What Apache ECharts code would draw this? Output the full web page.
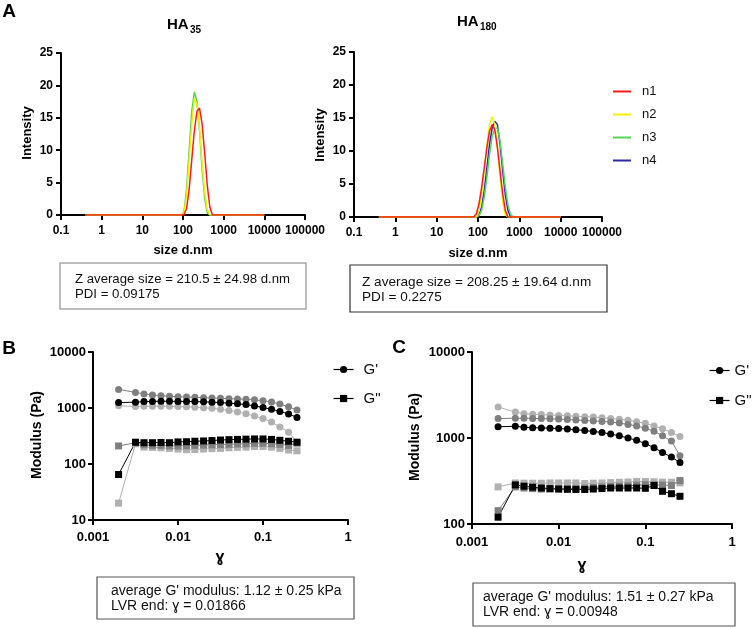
<!DOCTYPE html>
<html>
<head>
<meta charset="utf-8">
<script src="https://cdn.jsdelivr.net/npm/echarts@6/dist/echarts.min.js"></script>
<style>html,body{margin:0;padding:0;background:#fff}#c{width:756px;height:628px}</style>
</head>
<body>
<div id="c"></div>
<script>
// ---------- Panel A: DLS size distributions ----------
const sizeBins = [0.4, 78.82, 91.28, 105.7, 122.4, 141.8, 164.2, 190.1, 220.2, 255.0, 295.3, 342.0, 396.1, 458.7, 531.2, 615.1, 712.4, 825.0, 10000];
const ha35_n1 = [0, 0, 0, 0, 1.0, 4.0, 8.5, 13.0, 16.0, 16.5, 14.0, 9.5, 4.5, 1.2, 0, 0, 0, 0, 0];
const ha35_n2 = [0, 0, 0, 0.3, 3.0, 8.5, 14.0, 18.0, 17.0, 13.5, 8.0, 3.5, 0.8, 0, 0, 0, 0, 0, 0];
const ha35_n3 = [0, 0, 0, 0.5, 4.0, 10.0, 16.0, 19.0, 17.5, 13.0, 7.0, 2.5, 0.3, 0, 0, 0, 0, 0, 0];
const ha180_n1 = [0, 0, 0.5, 2.0, 4.5, 7.5, 10.5, 13.0, 14.0, 13.2, 10.5, 7.0, 3.5, 1.0, 0, 0, 0, 0, 0];
const ha180_n2 = [0, 0, 0, 1.0, 3.5, 7.0, 11.0, 14.0, 15.2, 14.0, 10.5, 6.0, 2.3, 0.3, 0, 0, 0, 0, 0];
const ha180_n3 = [0, 0, 0, 0.2, 1.0, 3.0, 6.0, 9.5, 12.2, 13.4, 13.5, 11.5, 8.0, 4.5, 1.8, 0.4, 0, 0, 0];
const ha180_n4 = [0, 0, 0, 0.3, 1.5, 4.0, 7.5, 11.0, 13.5, 14.5, 14.0, 11.0, 7.0, 3.3, 1.0, 0, 0, 0, 0];
const sizeTickLabels = ['0.1', '1', '10', '100', '1000', '10000', '100000'];
const intensityTicks = [0, 5, 10, 15, 20, 25];

// ---------- Panels B & C: amplitude sweeps ----------
const strain = [0.002, 0.00316, 0.00398, 0.00501, 0.00631, 0.00794, 0.01, 0.0126, 0.0158, 0.02, 0.0251, 0.0316, 0.0398, 0.0501, 0.0631, 0.0794, 0.1, 0.126, 0.158, 0.2, 0.251];
const strainTickLabels = ['0.001', '0.01', '0.1', '1'];

const B_Gp_a = [2150, 1900, 1780, 1700, 1660, 1620, 1590, 1570, 1550, 1530, 1510, 1490, 1470, 1450, 1430, 1400, 1350, 1280, 1180, 1050, 920];
const B_Gp_b = [1250, 1270, 1300, 1310, 1320, 1320, 1310, 1310, 1300, 1290, 1270, 1250, 1220, 1190, 1150, 1090, 1020, 950, 870, 780, 680];
const B_Gp_c = [1100, 1060, 1070, 1080, 1080, 1070, 1060, 1050, 1030, 1010, 990, 950, 900, 850, 790, 720, 650, 560, 460, 370, 245];
const B_Gpp_a = [65, 245, 240, 240, 242, 240, 248, 250, 255, 258, 262, 268, 272, 275, 278, 280, 280, 275, 265, 255, 245];
const B_Gpp_b = [210, 240, 220, 215, 215, 210, 210, 212, 215, 218, 220, 222, 225, 228, 230, 235, 235, 230, 225, 215, 235];
const B_Gpp_c = [20, 230, 200, 198, 195, 190, 185, 180, 182, 185, 188, 190, 195, 198, 200, 205, 205, 200, 190, 178, 172];

const C_Gp_a = [2300, 2000, 1920, 1890, 1870, 1850, 1830, 1810, 1790, 1770, 1750, 1720, 1690, 1650, 1610, 1550, 1480, 1380, 1280, 1160, 1040];
const C_Gp_b = [1680, 1700, 1700, 1690, 1680, 1670, 1660, 1640, 1620, 1600, 1580, 1560, 1530, 1490, 1440, 1380, 1300, 1200, 1060, 920, 620];
const C_Gp_c = [1350, 1370, 1330, 1320, 1310, 1300, 1290, 1270, 1250, 1220, 1190, 1160, 1110, 1060, 1000, 940, 860, 770, 680, 600, 520];
const C_Gpp_a = [120, 285, 275, 268, 262, 258, 255, 253, 252, 252, 255, 258, 262, 262, 262, 262, 260, 280, 240, 225, 210];
const C_Gpp_b = [143, 270, 262, 258, 255, 255, 256, 258, 260, 262, 266, 270, 273, 275, 278, 283, 286, 286, 283, 280, 320];
const C_Gpp_c = [270, 300, 298, 298, 298, 300, 300, 300, 300, 296, 298, 300, 303, 306, 308, 312, 312, 310, 307, 305, 300];

const FONT = 'Arial, "Liberation Sans", Helvetica, sans-serif';
const nColors = { n1: '#ff1a1a', n2: '#f2f200', n3: '#55d455', n4: '#2a2aa8' };
const BLACK = '#000000', MID = '#7f7f7f', LIGHT = '#b0b0b0';

function pairs(xs, ys) { return xs.map((x, i) => [x, ys[i]]); }

const axisLine = { lineStyle: { color: '#000', width: 2 } };
const axisTick = { length: 5, lineStyle: { color: '#000', width: 2 } };

function sizeXAxis(gi) {
  return {
    type: 'log', logBase: 10, gridIndex: gi, min: 0.1, max: 100000,
    axisLine, axisTick, splitLine: { show: false }, minorTick: { show: false },
    axisLabel: { color: '#000', fontFamily: FONT, fontWeight: 'bold', fontSize: 12, margin: 10,
      formatter: (v, i) => sizeTickLabels[i] }
  };
}
function intensityYAxis(gi) {
  return {
    type: 'value', gridIndex: gi, min: intensityTicks[0], max: intensityTicks[intensityTicks.length - 1], interval: 5,
    axisLine: { show: true, lineStyle: { color: '#000', width: 2 } }, axisTick: { show: true, length: 5, lineStyle: { color: '#000', width: 2 } },
    splitLine: { show: false },
    axisLabel: { color: '#000', fontFamily: FONT, fontWeight: 'bold', fontSize: 12, margin: 8 }
  };
}
function strainXAxis(gi, margin) {
  return {
    type: 'log', logBase: 10, gridIndex: gi, min: 0.001, max: 1,
    axisLine, axisTick, splitLine: { show: false },
    axisLabel: { color: '#000', fontFamily: FONT, fontWeight: 'bold', fontSize: 13, margin: margin,
      formatter: (v, i) => strainTickLabels[i] }
  };
}
function modulusYAxis(gi, min) {
  return {
    type: 'log', logBase: 10, gridIndex: gi, min: min, max: 10000,
    axisLine: { show: true, lineStyle: { color: '#000', width: 2 } }, axisTick: { show: true, length: 5, lineStyle: { color: '#000', width: 2 } },
    splitLine: { show: false },
    axisLabel: { color: '#000', fontFamily: FONT, fontWeight: 'bold', fontSize: 13, margin: 7,
      formatter: v => String(Math.round(v)) }
  };
}

function dlsSeries(name, data, axisIdx) {
  return {
    name, type: 'line', xAxisIndex: axisIdx, yAxisIndex: axisIdx, symbol: 'none',
    data: pairs(sizeBins, data), lineStyle: { color: nColors[name], width: 1.5 },
    itemStyle: { color: nColors[name] }, animation: false
  };
}
function rheoSeries(name, data, axisIdx, color, symbol) {
  return {
    name, type: 'line', xAxisIndex: axisIdx, yAxisIndex: axisIdx, symbol, symbolSize: 7,
    data: pairs(strain, data), lineStyle: { color, width: 1 }, itemStyle: { color }, animation: false
  };
}

function label(text, x, y, font, extra) {
  return Object.assign({ type: 'text', x, y, style: { text, font: font + ' ' + FONT, fill: '#000', align: 'center', verticalAlign: 'middle' } }, extra || {});
}
function boxLine(text, x, y, size) {
  return { type: 'text', x, y, style: { text, font: size + 'px ' + FONT, fill: '#111', align: 'left', verticalAlign: 'middle' } };
}
function rheoLegend(left, top, gap, pad) {
  return {
    data: [
      { name: "G'", itemStyle: { color: '#000' }, lineStyle: { color: '#000', width: 1.2 } },
      { name: 'G"', itemStyle: { color: '#000' }, lineStyle: { color: '#000', width: 1.2 } }
    ],
    orient: 'vertical', left, top, itemWidth: 20, itemHeight: 9, itemGap: gap,
    textStyle: { fontFamily: FONT, fontSize: 15, color: '#111', padding: [0, 0, 0, pad] }
  };
}

const option = {
  backgroundColor: '#fff',
  animation: false,
  grid: [
    { left: 61, top: 53, width: 244, height: 162 },
    { left: 354, top: 52, width: 248, height: 165 },
    { left: 93, top: 352, width: 255, height: 168 },
    { left: 472, top: 352, width: 260, height: 172 }
  ],
  xAxis: [sizeXAxis(0), sizeXAxis(1), strainXAxis(2, 11), strainXAxis(3, 12)],
  yAxis: [intensityYAxis(0), intensityYAxis(1), modulusYAxis(2, 10), modulusYAxis(3, 100)],
  legend: [
    {
      data: ['n1', 'n2', 'n3', 'n4'], orient: 'vertical', left: 608, top: 80,
      itemWidth: 18, itemHeight: 12, itemGap: 10, icon: 'path://M0,5 L18,5 L18,7 L0,7 Z',
      textStyle: { fontFamily: FONT, fontSize: 13, color: '#111', padding: [0, 0, 0, 6] }
    },
    rheoLegend(328, 357, 14, 5),
    rheoLegend(704, 358, 15, 0)
  ],
  series: [
    dlsSeries('n3', ha35_n3, 0), dlsSeries('n2', ha35_n2, 0), dlsSeries('n1', ha35_n1, 0),
    dlsSeries('n4', ha180_n4, 1), dlsSeries('n3', ha180_n3, 1), dlsSeries('n2', ha180_n2, 1), dlsSeries('n1', ha180_n1, 1),
    rheoSeries("G'", B_Gp_a, 2, MID, 'circle'), rheoSeries("G'", B_Gp_c, 2, LIGHT, 'circle'), rheoSeries("G'", B_Gp_b, 2, BLACK, 'circle'),
    rheoSeries('G"', B_Gpp_c, 2, LIGHT, 'rect'), rheoSeries('G"', B_Gpp_b, 2, MID, 'rect'), rheoSeries('G"', B_Gpp_a, 2, BLACK, 'rect'),
    rheoSeries("G'", C_Gp_a, 3, LIGHT, 'circle'), rheoSeries("G'", C_Gp_b, 3, MID, 'circle'), rheoSeries("G'", C_Gp_c, 3, BLACK, 'circle'),
    rheoSeries('G"', C_Gpp_c, 3, LIGHT, 'rect'), rheoSeries('G"', C_Gpp_b, 3, MID, 'rect'), rheoSeries('G"', C_Gpp_a, 3, BLACK, 'rect')
  ],
  graphic: [
    label('A', 9, 12, 'bold 19px'),
    label('B', 9, 349, 'bold 19px'),
    label('C', 399, 348, 'bold 19px'),
    // panel titles
    { type: 'text', x: 167, y: 25, style: { text: 'HA', font: 'bold 15px ' + FONT, fill: '#000', align: 'left', verticalAlign: 'middle' } },
    { type: 'text', x: 190, y: 30, style: { text: '35', font: 'bold 10px ' + FONT, fill: '#000', align: 'left', verticalAlign: 'middle' } },
    { type: 'text', x: 457, y: 22, style: { text: 'HA', font: 'bold 15px ' + FONT, fill: '#000', align: 'left', verticalAlign: 'middle' } },
    { type: 'text', x: 480, y: 27, style: { text: '180', font: 'bold 10px ' + FONT, fill: '#000', align: 'left', verticalAlign: 'middle' } },
    // axis titles
    label('Intensity', 27, 133, 'bold 13px', { rotation: Math.PI / 2 }),
    label('size d.nm', 183, 250, 'bold 13px'),
    label('Intensity', 320, 135, 'bold 13px', { rotation: Math.PI / 2 }),
    label('size d.nm', 478, 253, 'bold 13px'),
    label('Modulus (Pa)', 37, 435, 'bold 14px', { rotation: Math.PI / 2 }),
    label('ɣ', 220, 558, 'bold 16px'),
    label('Modulus (Pa)', 415, 437, 'bold 14px', { rotation: Math.PI / 2 }),
    label('ɣ', 582, 566, 'bold 16px'),
    // info boxes
    { type: 'rect', shape: { x: 60, y: 263, width: 246, height: 46 }, style: { fill: 'none', stroke: '#a8a8a8', lineWidth: 1.5 } },
    boxLine('Z average size = 210.5 ± 24.98 d.nm', 75, 279, 13.2),
    boxLine('PDI = 0.09175', 75, 294, 13.2),
    { type: 'rect', shape: { x: 350, y: 265, width: 257, height: 47 }, style: { fill: 'none', stroke: '#333', lineWidth: 1.2 } },
    boxLine('Z average size = 208.25 ± 19.64 d.nm', 362, 282, 13.6),
    boxLine('PDI = 0.2275', 362, 297, 13.6),
    { type: 'rect', shape: { x: 97, y: 577, width: 257, height: 42 }, style: { fill: 'none', stroke: '#555', lineWidth: 1.2 } },
    boxLine("average G' modulus: 1.12 ± 0.25 kPa", 111, 591, 14),
    boxLine('LVR end: ɣ = 0.01866', 111, 606, 14),
    { type: 'rect', shape: { x: 473, y: 583, width: 262, height: 43 }, style: { fill: 'none', stroke: '#555', lineWidth: 1.2 } },
    boxLine("average G' modulus: 1.51 ± 0.27 kPa", 483, 597, 14),
    boxLine('LVR end: ɣ = 0.00948', 483, 612, 14)
  ]
};

const chart = echarts.init(document.getElementById('c'), null, { renderer: 'canvas' });
chart.setOption(option);
</script>
</body>
</html>
